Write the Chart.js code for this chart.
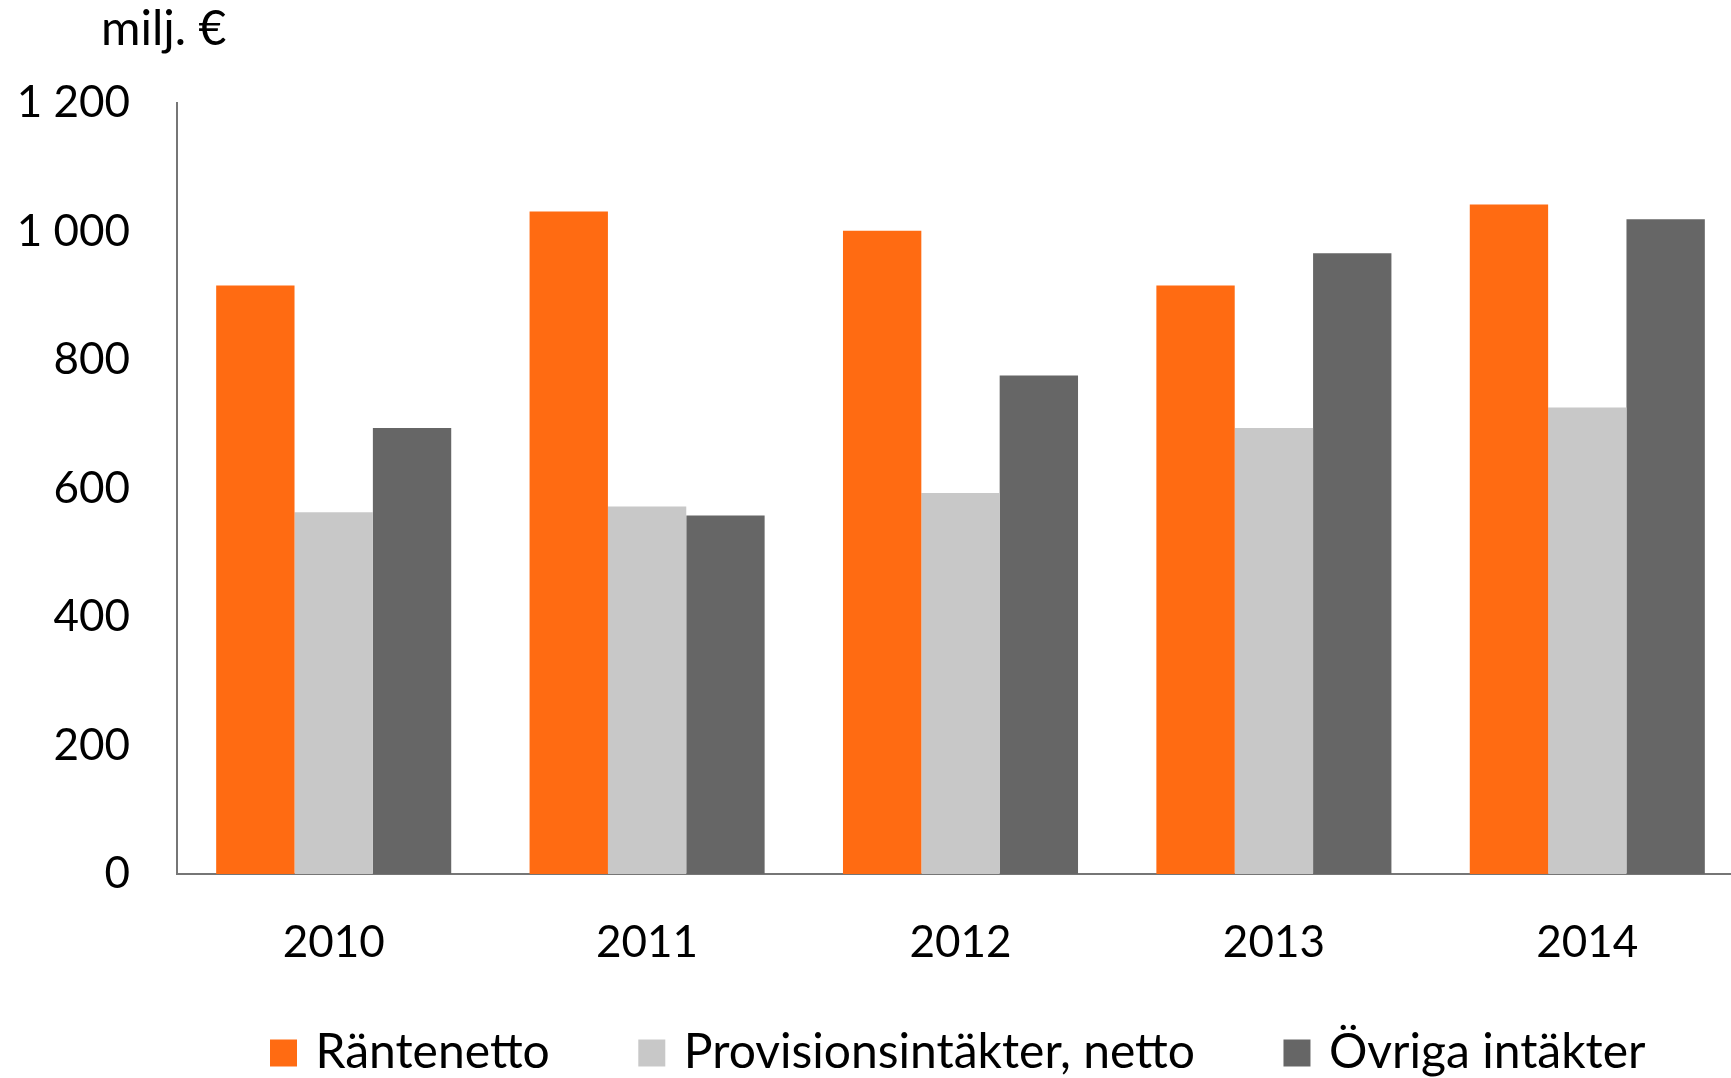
<!DOCTYPE html>
<html><head><meta charset="UTF-8">
<title>Intäkter 2010–2014</title>
<script src="https://cdn.jsdelivr.net/npm/chart.js"></script>
<style>
  html,body{margin:0;padding:0;background:#fff;overflow:hidden;width:1731px;height:1078px}
  canvas{display:block}
</style>
</head><body>
<canvas id="chart" width="1760" height="1078"></canvas>
<script>
  // years on the x axis
  const years = ["2010", "2011", "2012", "2013", "2014"];
  // milj. €
  const rantenetto = [916, 1031, 1001, 916, 1042];
  const provisioner = [563, 572, 593, 694, 726];
  const ovriga = [694, 558, 776, 966, 1019];
  const yTicks = [0, 200, 400, 600, 800, 1000, 1200];

  const FONT = "Lato";
  const fmt = v => String(v).replace(/\B(?=(\d{3})+(?!\d))/g, " ");

  // "milj. €" above the value axis
  const unitLabel = {
    id: "unitLabel",
    afterDraw(chart) {
      const c = chart.ctx;
      c.save();
      c.font = "48px " + FONT;
      c.fillStyle = "#000";
      c.textBaseline = "middle";
      c.textAlign = "left";
      c.fillText("milj. €", 101, 30);
      c.restore();
    }
  };

  // the year labels hang into the legend band, so don't let the x scale clip them
  const xLabelRoom = {
    id: "xLabelRoom",
    afterLayout(chart) { chart.scales.x.bottom = chart.height; }
  };

  new Chart(document.getElementById("chart"), {
    type: "bar",
    data: {
      labels: years,
      datasets: [
        { label: "Räntenetto", data: rantenetto, backgroundColor: "#ff6b12" },
        { label: "Provisionsintäkter, netto", data: provisioner, backgroundColor: "#c8c8c8" },
        { label: "Övriga intäkter", data: ovriga, backgroundColor: "#666666" }
      ]
    },
    options: {
      responsive: false,
      animation: false,
      datasets: { bar: { categoryPercentage: 0.75, barPercentage: 1.0 } },
      layout: { padding: { top: 103, right: 16, left: 0, bottom: -9 } },
      plugins: {
        legend: {
          position: "bottom",
          fullSize: false,
          labels: {
            color: "#000",
            font: { family: FONT, size: 48 },
            usePointStyle: true,
            pointStyle: "rect",
            boxWidth: 16,
            boxHeight: 27,
            padding: 94
          }
        },
        tooltip: { enabled: false }
      },
      scales: {
        x: {
          grid: { display: false },
          border: { display: true, color: "#767676", width: 2 },
          ticks: { color: "#000", font: { family: FONT, size: 44 }, padding: 34 },
          afterFit(s) { s.height = 61; }
        },
        y: {
          min: 0,
          max: 1200,
          afterBuildTicks(s) { s.ticks = yTicks.map(v => ({ value: v })); },
          grid: { display: false, drawTicks: false },
          border: { display: true, color: "#767676", width: 2 },
          ticks: { color: "#000", font: { family: FONT, size: 44 }, padding: 47, callback: v => fmt(v) },
          afterFit(s) { s.width = 177; }
        }
      }
    },
    plugins: [unitLabel, xLabelRoom]
  });
</script>
</body></html>
